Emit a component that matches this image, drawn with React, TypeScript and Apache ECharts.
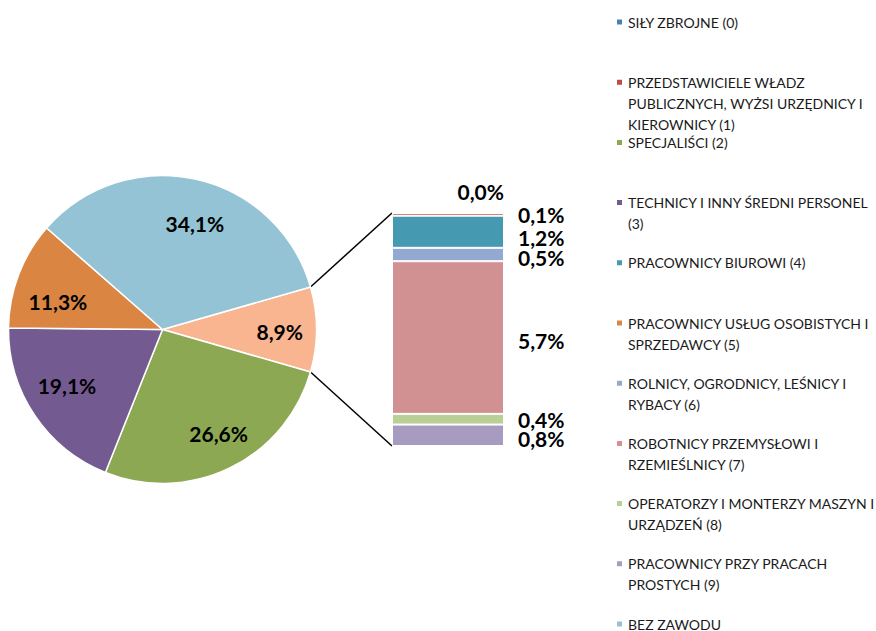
import React, { useEffect, useRef } from 'react';
import * as echarts from 'echarts';

// ---- data ----
const occupationNames = [
  'SIŁY ZBROJNE (0)',
  'PRZEDSTAWICIELE WŁADZ\nPUBLICZNYCH, WYŻSI URZĘDNICY I\nKIEROWNICY (1)',
  'SPECJALIŚCI (2)',
  'TECHNICY I INNY ŚREDNI PERSONEL\n(3)',
  'PRACOWNICY BIUROWI (4)',
  'PRACOWNICY USŁUG OSOBISTYCH I\nSPRZEDAWCY (5)',
  'ROLNICY, OGRODNICY, LEŚNICY I\nRYBACY (6)',
  'ROBOTNICY PRZEMYSŁOWI I\nRZEMIEŚLNICY (7)',
  'OPERATORZY I MONTERZY MASZYN I\nURZĄDZEŃ (8)',
  'PRACOWNICY PRZY PRACACH\nPROSTYCH (9)',
  'BEZ ZAWODU',
];

const otherName = 'POZOSTALI';
const otherValue = 8.9;

// pie slices after the "other" slice, clockwise
const pieIndices = [2, 3, 5, 10];
const pieValues = [26.6, 19.1, 11.3, 34.1];

// bar of pie, top to bottom
const barIndices = [0, 1, 4, 6, 7, 8, 9];
const barValues = [0.0, 0.1, 1.2, 0.5, 5.7, 0.4, 0.8];

// ---- styles ----
const occupationColors = [
  '#4A7EBB', '#BE4B48', '#8CA853', '#735A91', '#4599B0',
  '#DA8542', '#93A9D2', '#D19092', '#BACF96', '#A89BC0', '#93C3D4',
];
const otherColor = '#F9B590';
const barLabelOffsets = [[-61, -22], [0, 0], [0, 6], [0, 3], [0, 3], [0, 0], [0, 3]];
// other, then pieIndices order
const pieLabelOffsets = [[1, 2], [5, 0], [1, -9], [4, 13], [7, 7]];

const PIE_CX = 162.5;
const PIE_CY = 329.5;
const PIE_R = 154;
const BAR_LEFT = 392;
const BAR_TOP = 213;
const BAR_W = 112;
const BAR_H = 233;

const LEGEND_LEFT = 615;
const LEGEND_FIRST = 23;
const LEGEND_STEP = 60.2;
const LEGEND_LINE = 21;

const FONT = 'Lato, "Open Sans", sans-serif';

const fmtPct = (v: number) => v.toFixed(1).replace('.', ',') + '%';

export default function App() {
  const ref = useRef<HTMLDivElement>(null);

  useEffect(() => {
    if (!ref.current) return;
    const chart = echarts.init(ref.current, undefined, { renderer: 'svg' });

    const pieTotal = otherValue + pieValues.reduce((a, b) => a + b, 0);
    const halfAngle = (otherValue / pieTotal) * 180;
    const barTotal = barValues.reduce((a, b) => a + b, 0);

    const pieData = [
      { name: otherName, value: otherValue, itemStyle: { color: otherColor } },
      ...pieIndices.map((idx, i) => ({
        name: occupationNames[idx],
        value: pieValues[i],
        itemStyle: { color: occupationColors[idx] },
      })),
    ];

    const labelStyle = {
      fontFamily: FONT,
      fontWeight: 'bold' as const,
      fontSize: 21,
      color: '#000',
    };

    const barSeries = barIndices.map((idx, j) => ({
      type: 'bar' as const,
      name: occupationNames[idx],
      stack: 'inne',
      data: [barValues[j]],
      barWidth: '100%',
      itemStyle: { color: occupationColors[idx], borderColor: '#fff', borderWidth: 1 },
      emphasis: { disabled: true },
      label: {
        show: true,
        position: 'right' as const,
        distance: 14,
        offset: barLabelOffsets[j],
        formatter: (p: any) => fmtPct(p.value),
        ...labelStyle,
      },
    }));

    const a = (halfAngle * Math.PI) / 180;
    const px = PIE_CX + PIE_R * Math.cos(a);
    const pyTop = PIE_CY - PIE_R * Math.sin(a);
    const pyBot = PIE_CY + PIE_R * Math.sin(a);

    const legends = occupationNames.map((name, i) => {
      const n = name.split('\n').length;
      const center = LEGEND_FIRST + i * LEGEND_STEP;
      return {
        orient: 'vertical' as const,
        left: LEGEND_LEFT,
        top: center - 11.5 - (n - 1) * LEGEND_LINE,
        padding: 0,
        itemWidth: 7,
        itemHeight: 7,
        itemGap: 0,
        icon: 'rect',
        data: [{ name, itemStyle: { color: occupationColors[i] } }],
        formatter: (nm: string) => {
          const lines = nm.split('\n');
          return '\n'.repeat(lines.length - 1) + nm;
        },
        textStyle: {
          fontFamily: FONT,
          fontSize: 14,
          color: '#1a1a1a',
          lineHeight: LEGEND_LINE,
        },
      };
    });

    chart.setOption({
      animation: false,
      legend: legends,
      grid: { left: BAR_LEFT, top: BAR_TOP, width: BAR_W, height: BAR_H },
      xAxis: { type: 'category', data: ['inne'], show: false },
      yAxis: { type: 'value', min: 0, max: barTotal, inverse: true, show: false },
      series: [
        {
          type: 'pie',
          center: [PIE_CX, PIE_CY],
          radius: [0, PIE_R],
          startAngle: halfAngle,
          clockwise: true,
          data: pieData,
          label: { show: false },
          labelLine: { show: false },
          itemStyle: { borderColor: '#fff', borderWidth: 1.5 },
          emphasis: { disabled: true },
        },
        {
          type: 'pie',
          center: [PIE_CX, PIE_CY],
          radius: [PIE_R * 0.47, PIE_R],
          startAngle: halfAngle,
          clockwise: true,
          silent: true,
          z: 5,
          data: pieData.map((d, i) => ({
            ...d,
            itemStyle: { color: 'rgba(0,0,0,0)' },
            label: { offset: pieLabelOffsets[i] },
          })),
          itemStyle: { borderWidth: 0 },
          labelLine: { show: false },
          emphasis: { disabled: true },
          label: {
            show: true,
            position: 'inside',
            formatter: (p: any) => fmtPct(p.value),
            ...labelStyle,
          },
        },
        ...barSeries,
      ],
      graphic: [
        {
          type: 'line',
          shape: { x1: px, y1: pyTop, x2: BAR_LEFT, y2: BAR_TOP },
          style: { stroke: '#000', lineWidth: 1.5 },
        },
        {
          type: 'line',
          shape: { x1: px, y1: pyBot, x2: BAR_LEFT, y2: BAR_TOP + BAR_H },
          style: { stroke: '#000', lineWidth: 1.5 },
        },
      ],
    });

    return () => chart.dispose();
  }, []);

  return (
    <div
      ref={ref}
      style={{ position: 'fixed', left: 0, top: 0, width: 876, height: 631, background: '#fff' }}
    />
  );
}
